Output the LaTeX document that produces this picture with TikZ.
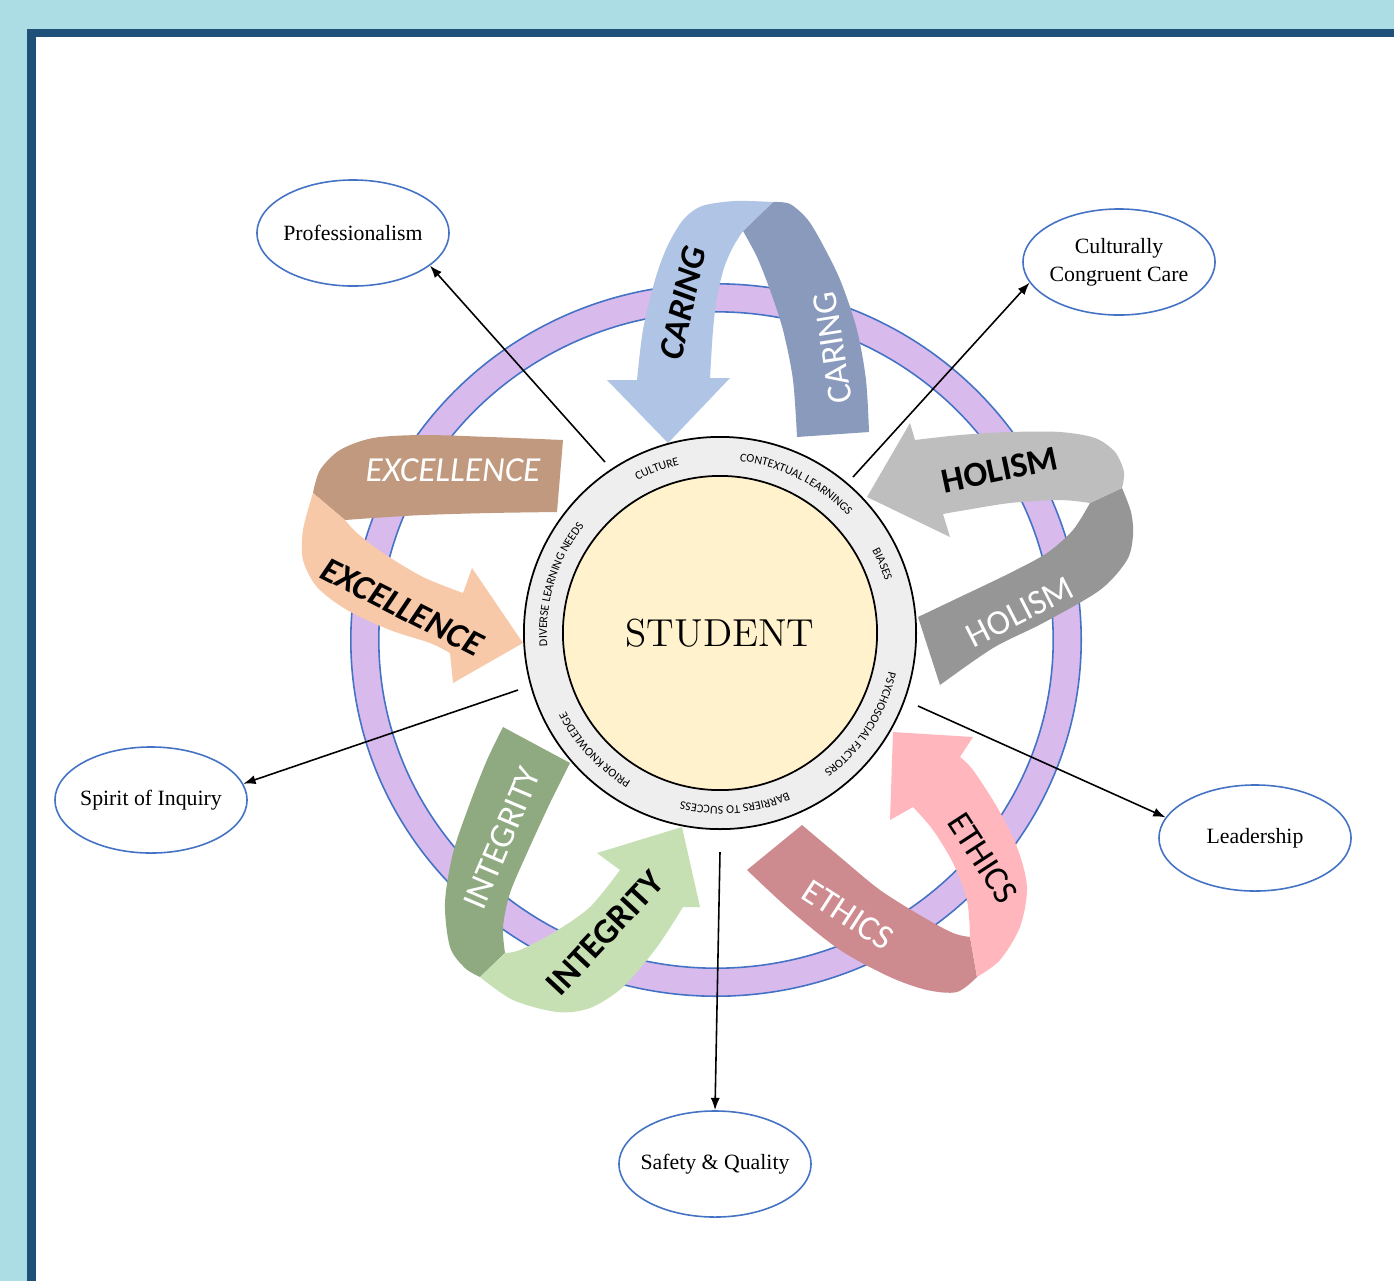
\documentclass[tikz,border=0pt]{standalone}
\usepackage{fontspec}
\newfontfamily\ribbonfont{Carlito}
\newfontfamily\goalfont{Liberation Serif}
\usetikzlibrary{shapes.geometric,decorations.text,arrows.meta}

\definecolor{bgblue}{RGB}{172,221,228}
\definecolor{frameblue}{RGB}{31,80,122}
\definecolor{lavender}{RGB}{216,186,236}
\definecolor{ringblue}{RGB}{68,114,196}
\definecolor{studentyellow}{RGB}{255,242,204}
\definecolor{ringgray}{RGB}{238,238,238}
\definecolor{caringlight}{RGB}{176,196,230}
\definecolor{caringdark}{RGB}{138,154,188}
\definecolor{holismlight}{RGB}{190,190,190}
\definecolor{holismdark}{RGB}{150,150,150}
\definecolor{integritydark}{RGB}{143,170,128}
\definecolor{integritylight}{RGB}{198,224,180}
\definecolor{ethicsdark}{RGB}{205,138,143}
\definecolor{ethicslight}{RGB}{255,182,188}
\definecolor{excellencedark}{RGB}{192,153,126}
\definecolor{excellencelight}{RGB}{248,201,168}

\newcommand\ringfont{\ribbonfont\fontsize{3.4}{4}\selectfont}

\begin{document}
\begin{tikzpicture}[x=0.01cm, y=0.01cm,
    goal/.style={ellipse, draw=ringblue, line width=0.45pt, minimum width=1.92cm,
        minimum height=1.06cm, inner xsep=-4pt, inner ysep=0pt, align=center, font=\goalfont\fontsize{6.2}{8}\selectfont},
    link/.style={-{Latex[length=3.5pt,width=2.6pt]}, line width=0.45pt},
    frontlabel/.style={inner sep=0pt, font=\ribbonfont\bfseries\fontsize{10}{12}\selectfont},
    backlabel/.style={inner sep=0pt, text=white, font=\ribbonfont\fontsize{10}{12}\selectfont}]
        \useasboundingbox (0,0) rectangle (1394,-1281);
        \fill[bgblue] (0,0) rectangle (1394,-1281);
        \fill[frameblue] (27,-29) rectangle (1394,-1281);
        \fill[white] (36,-37) rectangle (1394,-1281);

        \coordinate (hub) at (720,-633);
        \draw[ringblue, line width=0.45pt, fill=lavender, even odd rule]
            (716,-640) ellipse (3.65cm and 3.56cm) (716,-640) ellipse (3.37cm and 3.28cm);

        % caring
        \fill[caringdark] (773,-202) -- plot[smooth] coordinates {(773,-202) (790,-204) (808,-220) (824,-247) (841,-282) (857,-330) (866,-380) (869,-432)}
            -- (797,-437) -- plot[smooth] coordinates {(797,-437) (793,-380) (783,-330) (770,-290) (757,-257) (743,-231)} -- cycle;
        \fill[caringlight] (668,-443) -- (607,-380) -- (637,-380)
            -- plot[smooth] coordinates {(637,-380) (643,-330) (655,-280) (667,-247) (683,-220) (702,-206) (735,-201) (773,-202)}
            -- (743,-231) -- plot[smooth] coordinates {(743,-231) (733,-247) (724,-268) (717,-297) (713,-330) (710,-378)}
            -- (730,-378) -- cycle;
        \node[frontlabel, font=\ribbonfont\bfseries\itshape\fontsize{10}{12}\selectfont, rotate=77] (caringfront) at (683,-303) {CARING};
        \node[backlabel, rotate=99] (caringback) at (833,-348) {CARING};

        % holism
        \fill[holismdark] (1122,-488) -- plot[smooth] coordinates {(1122,-488) (1131,-512) (1133,-535) (1127,-560) (1100,-590) (1043,-623) (993,-648) (940,-685)}
            -- (918,-617) -- plot[smooth] coordinates {(918,-617) (960,-597) (1010,-573) (1047,-553) (1073,-530) (1090,-503)} -- cycle;
        \fill[holismlight] (867,-497) -- (910,-423) -- (915,-440)
            -- plot[smooth] coordinates {(915,-440) (960,-435) (1010,-432) (1060,-432) (1095,-438) (1115,-452) (1124,-472) (1122,-488)}
            -- (1090,-503) -- plot[smooth] coordinates {(1090,-503) (1060,-500) (1010,-503) (960,-511) (943,-514)}
            -- (950,-537) -- cycle;
        \node[frontlabel, rotate=12] (holismfront) at (1000,-470) {HOLISM};
        \node[backlabel, rotate=27] (holismback) at (1020,-612) {HOLISM};

        % integrity
        \fill[integritydark] (503,-727) -- plot[smooth] coordinates {(503,-727) (487,-760) (470,-803) (453,-853) (445,-903) (450,-947) (465,-968) (480,-977)}
            -- (505,-953) -- plot[smooth] coordinates {(505,-953) (503,-927) (510,-893) (527,-853) (550,-803) (570,-763)} -- cycle;
        \fill[integritylight] (480,-977) -- plot[smooth] coordinates {(480,-977) (513,-1000) (557,-1012) (590,-1008) (623,-987) (657,-947) (683,-907)}
            -- (700,-907) -- (682,-827) -- (597,-853) -- (620,-870)
            -- plot[smooth] coordinates {(620,-870) (590,-907) (553,-933) (520,-950) (505,-953)} -- cycle;
        \node[backlabel, rotate=67] (integrityback) at (502,-838) {INTEGRITY};
        \node[frontlabel, rotate=47] (integrityfront) at (605,-933) {INTEGRITY};

        % ethics
        \fill[ethicsdark] (747,-870) -- plot[smooth] coordinates {(747,-870) (790,-910) (840,-950) (890,-977) (927,-990) (957,-992) (977,-977)}
            -- (970,-937) -- plot[smooth] coordinates {(970,-937) (953,-933) (923,-917) (880,-890) (840,-857) (802,-825)} -- cycle;
        \fill[ethicslight] (977,-977) -- plot[smooth] coordinates {(977,-977) (1000,-960) (1020,-927) (1027,-887) (1017,-847) (997,-807) (973,-770) (960,-757)}
            -- (973,-737) -- (893,-732) -- (890,-820) -- (913,-807)
            -- plot[smooth] coordinates {(913,-807) (933,-830) (953,-863) (967,-900) (970,-937)} -- cycle;
        \node[frontlabel, font=\ribbonfont\fontsize{10}{12}\selectfont, rotate=-57] (ethicsfront) at (983,-858) {ETHICS};
        \node[backlabel, rotate=-33] (ethicsback) at (848,-915) {ETHICS};

        % excellence
        \fill[excellencedark] (563,-440) -- (557,-512) -- plot[smooth] coordinates {(557,-512) (490,-513) (423,-515) (373,-518) (345,-520)}
            -- (313,-493) -- plot[smooth] coordinates {(313,-493) (320,-470) (340,-450) (373,-438) (423,-435) (490,-437) (563,-440)} -- cycle;
        \fill[excellencelight] (313,-493) -- plot[smooth] coordinates {(313,-493) (303,-530) (303,-560) (317,-587) (347,-610) (390,-630) (430,-643) (450,-653)}
            -- (453,-683) -- (523,-643) -- (472,-568) -- (463,-593)
            -- plot[smooth] coordinates {(463,-593) (423,-577) (383,-553) (357,-533) (345,-520)} -- cycle;
        \node[backlabel, font=\ribbonfont\itshape\fontsize{10}{12}\selectfont] (excellenceback) at (453,-470) {EXCELLENCE};
        \node[frontlabel, font=\ribbonfont\bfseries\itshape\fontsize{10}{12}\selectfont, rotate=-27] (excellencefront) at (402,-607) {EXCELLENCE};

        \node[goal] (professionalism) at (353,-233) {Professionalism};
        \node[goal] (congruentcare) at (1119,-262) {Culturally\\Congruent Care};
        \node[goal] (inquiry) at (151,-800) {Spirit of Inquiry};
        \node[goal] (leadership) at (1255,-838) {Leadership};
        \node[goal] (safety) at (715,-1164) {Safety \& Quality};

        \coordinate (p1) at (605,-462);
        \coordinate (p2) at (853,-477);
        \coordinate (p3) at (518,-690);
        \coordinate (p4) at (918,-706);
        \coordinate (p5) at (720,-852);
        \draw[link] (p1) -- (professionalism.-23);
        \draw[link] (p2) -- (congruentcare.193);
        \draw[link] (p3) -- (inquiry.10);
        \draw[link] (p4) -- (leadership.167);
        \draw[link] (p5) -- (safety.north);

        \draw[line width=0.5pt, fill=ringgray] (hub) circle (1.96cm);
        \node[circle, draw, line width=0.5pt, fill=studentyellow, minimum size=3.14cm, inner sep=0pt,
            font=\fontsize{11.1}{13}\selectfont] (student) at (hub) {STUDENT};

        \path[decorate, decoration={text along path, text align=center, text={|\ringfont|CULTURE}}]
            (hub) ++(123:1.73cm) arc[start angle=123, end angle=99, radius=1.73cm];
        \path[decorate, decoration={text along path, text align=center, text={|\ringfont|CONTEXTUAL LEARNINGS}}]
            (hub) ++(90:1.73cm) arc[start angle=90, end angle=36, radius=1.73cm];
        \path[decorate, decoration={text along path, text align=center, text={|\ringfont|BIASES}}]
            (hub) ++(35:1.73cm) arc[start angle=35, end angle=11, radius=1.73cm];
        \path[decorate, decoration={text along path, text align=center, text={|\ringfont|PSYCHOSOCIAL FACTORS}}]
            (hub) ++(-5:1.73cm) arc[start angle=-5, end angle=-61, radius=1.73cm];
        \path[decorate, decoration={text along path, text align=center, text={|\ringfont|BARRIERS TO SUCCESS}}]
            (hub) ++(-60:1.73cm) arc[start angle=-60, end angle=-110, radius=1.73cm];
        \path[decorate, decoration={text along path, text align=center, text={|\ringfont|PRIOR KNOWLEDGE}}]
            (hub) ++(-114:1.73cm) arc[start angle=-114, end angle=-160, radius=1.73cm];
        \path[decorate, decoration={text along path, text align=center, text={|\ringfont|DIVERSE LEARNING NEEDS}}]
            (hub) ++(192:1.73cm) arc[start angle=192, end angle=134, radius=1.73cm];
    \end{tikzpicture}
\end{document}
